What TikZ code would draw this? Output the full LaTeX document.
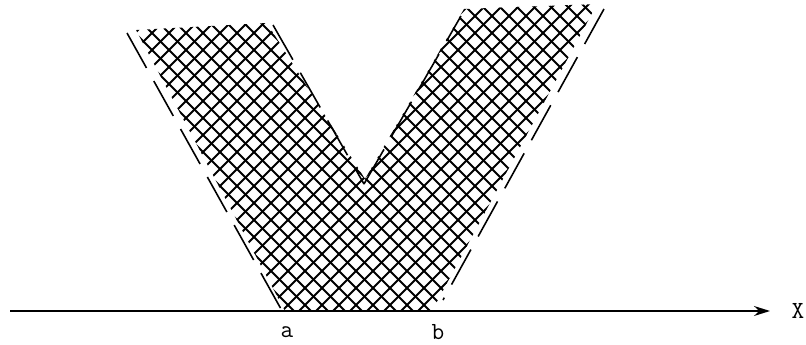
\documentclass[tikz,border=0pt]{standalone}
\usepackage{tikz}
\usetikzlibrary{arrows.meta,positioning}

\begin{document}
\begin{tikzpicture}[x=0.02cm,y=-0.02cm,
		hatch/.style={line width=1.1pt},
		edge/.style={line width=0.9pt,dash pattern=on 0.8cm off 0.3cm},
		lbl/.style={font=\ttfamily\fontsize{14}{16}\selectfont,inner sep=0pt}]
			\useasboundingbox (0,0) rectangle (806,345);

			% hatched V
			\coordinate (h1) at (136,30);
			\coordinate (h2) at (267,23);
			\coordinate (h3) at (365,179);
			\coordinate (h4) at (464,9);
			\coordinate (h5) at (597,4);
			\coordinate (h6) at (432,311);
			\coordinate (h7) at (285,311);

			\begin{scope}
				\clip (h1) -- (h2) -- (h3) -- (h4) -- (h5) -- (h6) -- (h7) -- cycle;
				\foreach \c in {-340,-323,...,620}
					\draw[hatch] (\c,0) -- ++(345,345);
				\foreach \c in {100,117,...,1000}
					\draw[hatch] (\c,0) -- ++(-345,345);
			\end{scope}

			% dashed borders
			\coordinate (A) at (127,33);
			\coordinate (F) at (281,309);
			\coordinate (B) at (273,25);
			\coordinate (N) at (364,184);
			\coordinate (C) at (461,16);
			\coordinate (D) at (604,9);
			\coordinate (E) at (443,300);

			\draw[edge] (A) -- (F);
			\draw[edge] (B) -- (N);
			\draw[edge] (N) -- (C);
			\draw[edge] (D) -- (E);

			\coordinate (x0) at (10,311);
			\coordinate (x1) at (770,311);
			\node[lbl] (xlab) at (798,311) {X};
			\node[lbl] (a) at (287,332) {a};
			\node[lbl] (b) at (438,332) {b};

			\draw[line width=0.8pt,-{Stealth[length=0.32cm,width=0.2cm]}] (x0) -- (x1);
		\end{tikzpicture}
\end{document}
